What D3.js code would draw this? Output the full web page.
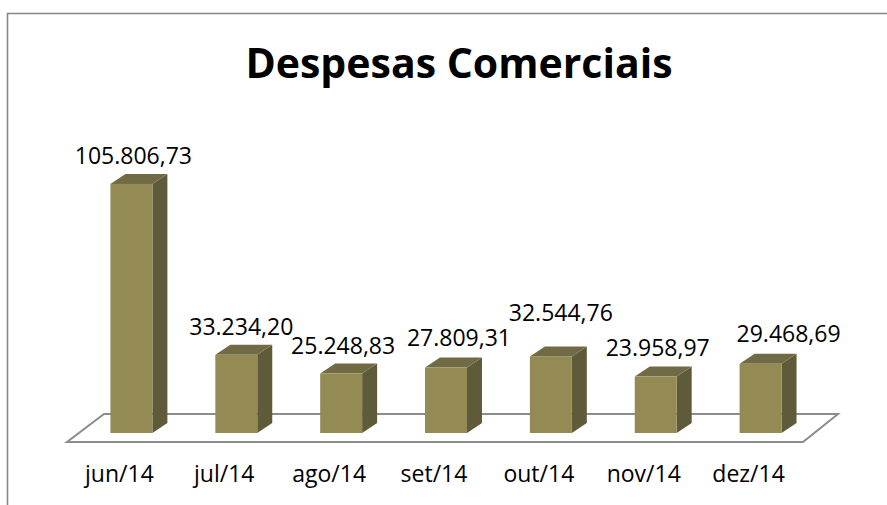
<!DOCTYPE html>
<html>
<head>
<meta charset="utf-8">
<script src="https://cdn.jsdelivr.net/npm/d3@7"></script>
<style>
  body { margin: 0; background: #fff; }
  svg { display: block; }
</style>
</head>
<body>
<div id="chart"></div>
<script>
// data
var months = ["jun/14", "jul/14", "ago/14", "set/14", "out/14", "nov/14", "dez/14"];
var despesas = [105806.73, 33234.20, 25248.83, 27809.31, 32544.76, 23958.97, 29468.69];
var chartTitle = "Despesas Comerciais";

// value labels are nudged a bit by Excel to dodge each other
var labelNudge = [[2, 0], [5, 0], [2, 0], [13, -2], [10, -15], [2, -1], [28, -2]];

var W = 887, H = 505;
var base = 433;          // bottom of bar front faces
var depth = { dx: 15, dy: -10 };   // bar 3d offset
var textFont = "'Open Sans', 'DejaVu Sans', sans-serif";

var fmt = function (v) {
  // pt-BR number format: 105.806,73
  var s = v.toFixed(2).split(".");
  return s[0].replace(/\B(?=(\d{3})+(?!\d))/g, ".") + "," + s[1];
};

var svg = d3.select("#chart").append("svg")
  .attr("width", W)
  .attr("height", H);

// chart area border (only top and left visible)
svg.append("path")
  .attr("d", "M7.5," + H + "V13.5H" + W)
  .attr("fill", "none")
  .attr("stroke", "#878787")
  .attr("stroke-width", 1.6);

// title
svg.append("text")
  .attr("x", 459)
  .attr("y", 78)
  .attr("text-anchor", "middle")
  .style("font-family", textFont)
  .style("font-weight", "bold")
  .style("font-size", "41px")
  .attr("fill", "#000")
  .text(chartTitle);

var x = d3.scaleBand()
  .domain(months)
  .range([79, 813])
  .paddingInner(0.6)
  .paddingOuter(0.3);

var y = d3.scaleLinear()
  .domain([0, 120000])
  .range([base, base - 282.5]);

// floor
var r = x.range();
var floorFront = base + 9, floorBack = base - 19;
svg.append("path")
  .attr("d", "M" + (r[0] - 12) + "," + floorFront +
             "L" + (r[1] - 10) + "," + floorFront +
             "L" + (r[1] + 25) + "," + floorBack +
             "L" + (r[0] + 25) + "," + floorBack + "Z")
  .attr("fill", "#fff")
  .attr("stroke", "#8c8c8c")
  .attr("stroke-width", 2);

// bars
var bars = svg.append("g").selectAll("g")
  .data(months.map(function (m, i) { return { m: m, v: despesas[i], i: i }; }))
  .enter().append("g");

bars.append("path") // side
  .attr("d", function (d) {
    var x1 = x(d.m) + x.bandwidth(), t = y(d.v);
    return "M" + x1 + "," + t + "l" + depth.dx + "," + depth.dy +
      "V" + (base + depth.dy) + "l" + (-depth.dx) + "," + (-depth.dy) + "Z";
  })
  .attr("fill", "#5f5a39");

bars.append("path") // top
  .attr("d", function (d) {
    var x0 = x(d.m), t = y(d.v);
    return "M" + x0 + "," + t + "l" + depth.dx + "," + depth.dy +
      "h" + x.bandwidth() + "l" + (-depth.dx) + "," + (-depth.dy) + "Z";
  })
  .attr("fill", "#716b45");

bars.append("rect") // front
  .attr("x", function (d) { return x(d.m); })
  .attr("y", function (d) { return y(d.v); })
  .attr("width", x.bandwidth())
  .attr("height", function (d) { return base - y(d.v); })
  .attr("fill", "#948a54");

// value labels
bars.append("text")
  .attr("x", function (d) { return x(d.m) + x.bandwidth() / 2 + labelNudge[d.i][0]; })
  .attr("y", function (d) { return y(d.v) + depth.dy - 10 + labelNudge[d.i][1]; })
  .attr("text-anchor", "middle")
  .style("font-family", textFont)
  .style("font-size", "23px")
  .attr("fill", "#000")
  .text(function (d) { return fmt(d.v); });

// category labels
svg.append("g").selectAll("text")
  .data(months).enter()
  .append("text")
  .attr("x", function (d) { return x(d) + x.bandwidth() / 2 - 12; })
  .attr("y", 482)
  .attr("text-anchor", "middle")
  .style("font-family", textFont)
  .style("font-size", "23px")
  .attr("fill", "#000")
  .text(function (d) { return d; });
</script>
</body>
</html>
